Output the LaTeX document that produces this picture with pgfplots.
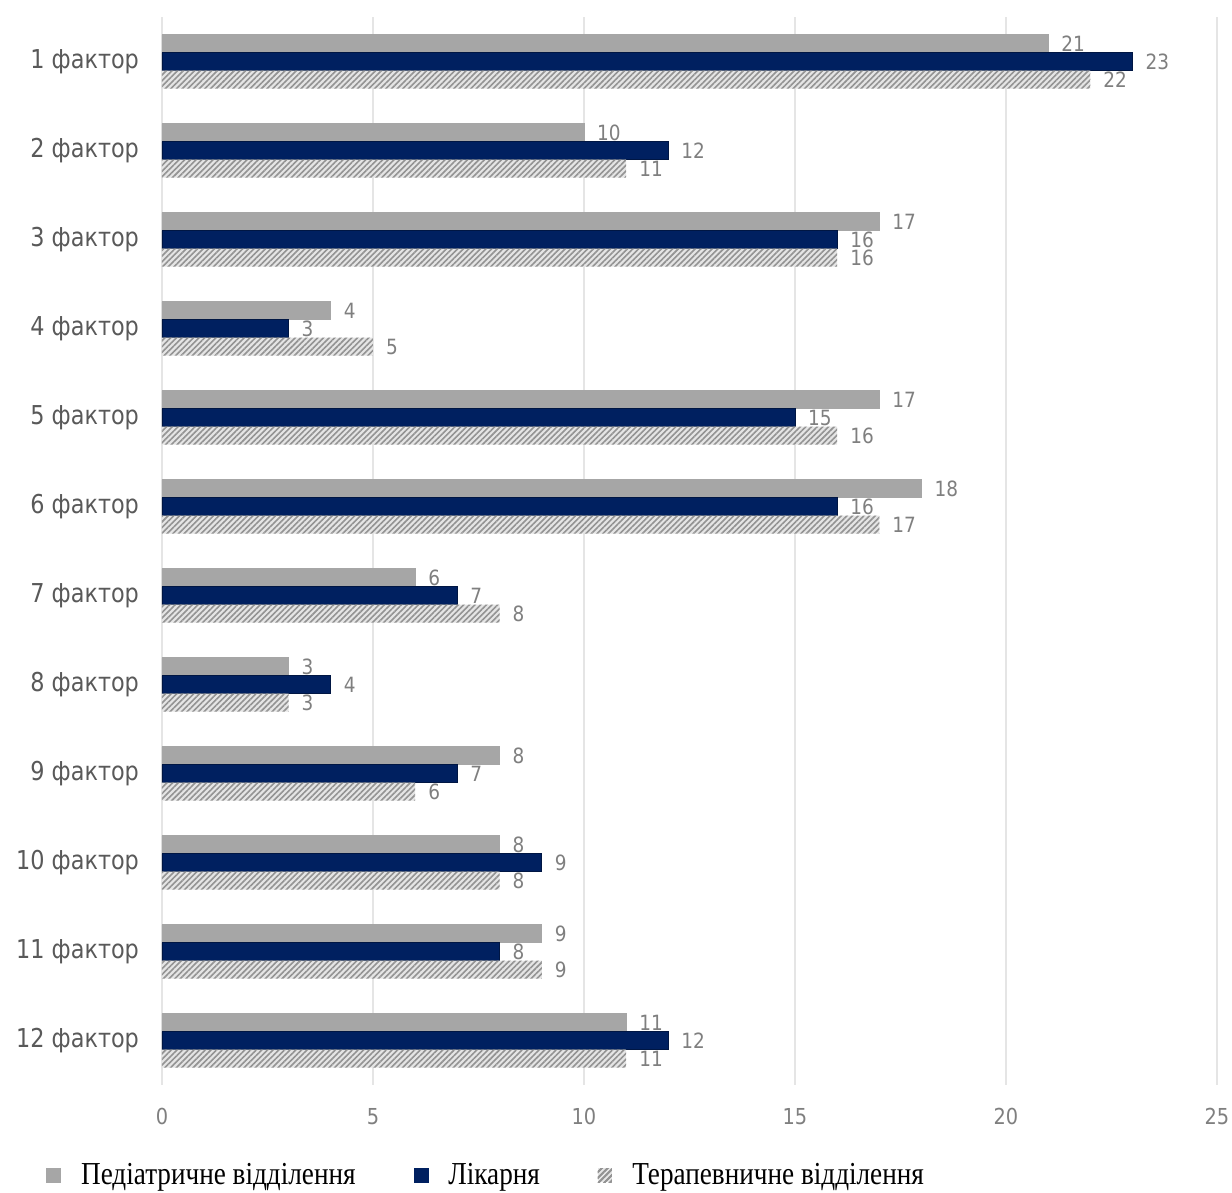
\documentclass[border=0pt]{standalone}
\usepackage{pgfplots}
\pgfplotsset{compat=1.18}
\usepackage{pgfplotstable}
\usepackage{fontspec}
\usetikzlibrary{patterns.meta}
\newfontfamily\lab[FakeStretch=0.88]{DejaVu Sans}
\newfontfamily\catf[FakeStretch=0.86]{DejaVu Sans}
\newfontfamily\legf[FakeStretch=0.85]{Liberation Serif}
\definecolor{pedc}{HTML}{A6A6A6}
\definecolor{hospc}{HTML}{002060}
\definecolor{lblc}{HTML}{7F7F7F}
\definecolor{catc}{HTML}{595959}
\pgfplotstableread{
cat ped hosp ter
1 21 23 22
2 10 12 11
3 17 16 16
4 4 3 5
5 17 15 16
6 18 16 17
7 6 7 8
8 3 4 3
9 8 7 6
10 8 9 8
11 9 8 9
12 11 12 11
}\data
\tikzset{hatchpat/.style={pattern={Lines[angle=45,distance=2pt,line width=0.8pt]},pattern color=gray!85}}
\begin{document}
\begin{tikzpicture}
\begin{axis}[
  at={(0,0)}, anchor=south west,
  scale only axis, width=527.5pt, height=534pt,
  xbar=0pt, bar width=9pt,
  xmin=0, xmax=25, xtick={0,5,...,25},
  ymin=0.5, ymax=12.5, y dir=reverse,
  ytick={1,...,12},
  yticklabels={1 фактор,2 фактор,3 фактор,4 фактор,5 фактор,6 фактор,7 фактор,8 фактор,9 фактор,10 фактор,11 фактор,12 фактор},
  /pgf/number format/assume math mode=true,
  axis line style={draw=none},
  major tick length=0pt,
  xmajorgrids, grid style={gray!20, line width=0.6pt},
  xticklabel style={font=\lab\fontsize{11}{13}\selectfont, text=lblc, yshift=-8pt},
  yticklabel style={font=\catf\fontsize{13}{15}\selectfont, text=catc, xshift=-8pt},
  nodes near coords,
  nodes near coords style={font=\lab\fontsize{10.5}{12}\selectfont, text=lblc, anchor=west, xshift=3pt},
  legend style={draw=none, at={(-0.1157,-0.0843)}, anchor=west, legend columns=3,
    font=\legf\fontsize{16}{18}\selectfont,
    /tikz/every even column/.append style={column sep=27pt},
    legend cell align=left},
]
\addplot[fill=pedc, draw=pedc, bar shift=9pt,
  legend image code/.code={\fill[pedc] (0pt,-3.5pt) rectangle (7pt,3.5pt); \node[inner sep=0pt, draw=none, fill=none, minimum size=0pt] at (15pt,0pt) {};}]
  table[x=ped,y=cat]{\data};
\addplot[fill=hospc, draw=hospc!70!black, bar shift=0pt,
  legend image code/.code={\fill[hospc] (0pt,-3.5pt) rectangle (7pt,3.5pt); \node[inner sep=0pt, draw=none, fill=none, minimum size=0pt] at (15pt,0pt) {};}]
  table[x=hosp,y=cat]{\data};
\addplot[fill=gray!20, draw=none, bar shift=-9pt, postaction={hatchpat},
  legend image code/.code={\fill[gray!20] (0pt,-3.5pt) rectangle (7pt,3.5pt); \fill[hatchpat] (0pt,-3.5pt) rectangle (7pt,3.5pt); \node[inner sep=0pt, draw=none, fill=none, minimum size=0pt] at (15pt,0pt) {};}]
  table[x=ter,y=cat]{\data};
\legend{Педіатричне відділення, Лікарня, Терапевничне відділення}
\end{axis}
\pgfresetboundingbox
\path[use as bounding box] (-81pt,-54pt) rectangle (535pt,542.5pt);
\end{tikzpicture}
\end{document}
